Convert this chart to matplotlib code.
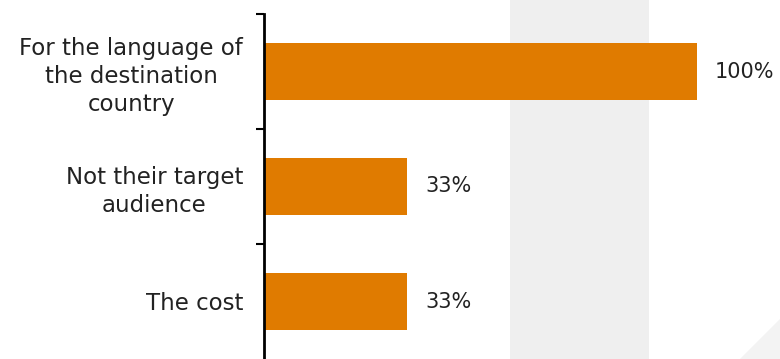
import matplotlib.pyplot as plt
from matplotlib.patches import Rectangle, Polygon

categories = ["For the language of\nthe destination\ncountry",
              "Not their target\naudience",
              "The cost"]
values = [100, 33, 33]
value_labels = ["100%", "33%", "33%"]

bar_color = "#E07B00"
text_color = "#222222"

plt.rcParams['font.family'] = ['DejaVu Sans']

fig = plt.figure(figsize=(7.8, 3.59), dpi=100)

# background layer: light band and corner decoration
bg = fig.add_axes([0, 0, 1, 1], zorder=0)
bg.set_xlim(0, 780)
bg.set_ylim(0, 359)
bg.axis("off")
bg.add_patch(Rectangle((510, 0), 139, 359, facecolor="#EFEFEF", edgecolor="none"))
bg.add_patch(Polygon([(740, 0), (780, 0), (780, 40)], closed=True,
                     facecolor="#F3F3F3", edgecolor="none"))

ax = fig.add_axes([264 / 780, 0, (697 - 264) / 780, 1 - 14 / 359], zorder=1)
ax.patch.set_alpha(0)

y = list(range(len(categories)))
bars = ax.barh(y, values, height=0.5, color=bar_color, zorder=2)
ax.set_ylim(len(categories) - 0.5, -0.5)
ax.set_xlim(0, 100)

for bar, lab in zip(bars, value_labels):
    ax.annotate(lab, (bar.get_width(), bar.get_y() + bar.get_height() / 2),
                xytext=(18, 0), textcoords="offset pixels",
                va="center", ha="left", fontsize=15, color=text_color,
                annotation_clip=False)

ax.set_yticks(y)
ax.set_yticklabels(categories, fontsize=16.5, color=text_color,
                   linespacing=1.28, ha="right", multialignment="center")
ax.tick_params(axis="y", which="major", length=0, pad=21 * 72 / 100)
ax.set_yticks([-0.5, 0.5, 1.5], minor=True)
ax.tick_params(axis="y", which="minor", length=6, width=1.5, color="black")
ax.set_xticks([])

for s in ["top", "right", "bottom"]:
    ax.spines[s].set_visible(False)
ax.spines["left"].set_linewidth(2)
ax.spines["left"].set_color("black")

fig.savefig("out.png", dpi=100)
